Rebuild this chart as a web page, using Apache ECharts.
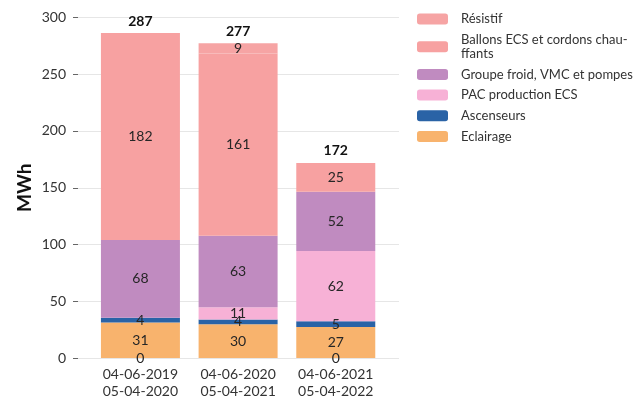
<!DOCTYPE html>
<html>
<head>
<meta charset="utf-8">
<script src="https://cdn.jsdelivr.net/npm/echarts@6/dist/echarts.min.js"></script>
<style>
  html, body { margin: 0; padding: 0; background: #fff; }
  #chart { width: 644px; height: 400px; }
</style>
</head>
<body>
<div id="chart"></div>
<script>
// periodes
const categories = ['04-06-2019\n05-04-2020', '04-06-2020\n05-04-2021', '04-06-2021\n05-04-2022'];

// consommations par poste (MWh), du bas vers le haut de la pile
const eclairage = [31.2, 29.8, 27.2];
const ascenseurs = [4.2, 4.0, 5.2];
const pacEcs = [0, 10.8, 61.8];
const groupeFroid = [68.4, 63.0, 52.2];
const ballonsEcs = [182.3, 160.6, 25.4];
const resistif = [0, 9.0, 0];

// totaux affiches au-dessus des barres
const totals = [287, 277, 172];

const yMin = 0, yMax = 300, yStep = 50;

const FONT = 'Lato';
const postes = [
  { name: 'Eclairage', data: eclairage, color: '#F8B36D' },
  { name: 'Ascenseurs', data: ascenseurs, color: '#2A63A6' },
  { name: 'PAC production ECS', data: pacEcs, color: '#F7B1D6' },
  { name: 'Groupe froid, VMC et pompes', data: groupeFroid, color: '#C08BC0' },
  { name: 'Ballons ECS et cordons chauffants', data: ballonsEcs, color: '#F7A1A1' },
  { name: 'Résistif', data: resistif, color: '#F6A4A4' }
];

// "0" ecrit au pied des barres qui ont un poste nul
const zeroRow = categories.map((c, i) => postes.some(p => p.data[i] === 0) ? 0 : '-');

let chart = echarts.init(document.getElementById('chart'));

let series = [];
series.push({
  name: '_zero',
  type: 'bar',
  stack: 'tot',
  xAxisIndex: 1,
  yAxisIndex: 1,
  barWidth: 79,
  data: zeroRow,
  itemStyle: { color: 'transparent' },
  label: {
    show: true,
    position: 'inside',
    color: '#262626',
    fontFamily: FONT,
    fontSize: 14,
    formatter: '0'
  },
  silent: true
});
postes.forEach(p => {
  series.push({
    name: p.name,
    type: 'bar',
    stack: 'tot',
    xAxisIndex: 1,
    yAxisIndex: 1,
    barWidth: 79,
    data: p.data,
    itemStyle: { color: p.color },
    label: {
      show: true,
      position: 'inside',
      color: '#262626',
      fontFamily: FONT,
      fontSize: 14,
      formatter: function (v) {
        return v.value ? String(Math.round(v.value)) : '';
      }
    }
  });
});
series.push({
  name: '_total',
  type: 'bar',
  stack: 'tot',
  xAxisIndex: 1,
  yAxisIndex: 1,
  barWidth: 79,
  data: totals.map(() => 0),
  itemStyle: { color: 'transparent' },
  label: {
    show: true,
    position: 'top',
    distance: 5,
    color: '#111',
    fontFamily: FONT,
    fontWeight: 'bold',
    fontSize: 14,
    formatter: function (v) {
      return String(totals[v.dataIndex]);
    }
  },
  silent: true
});

let option = {
  animation: false,
  backgroundColor: '#fff',
  legend: {
    orient: 'vertical',
    left: 412,
    top: 7,
    itemWidth: 31,
    itemHeight: 11,
    itemGap: 6.7,
    data: ['Résistif', 'Ballons ECS et cordons chauffants', 'Groupe froid, VMC et pompes',
      'PAC production ECS', 'Ascenseurs', 'Eclairage'],
    formatter: function (name) {
      return name === 'Ballons ECS et cordons chauffants' ? 'Ballons ECS et cordons chau-\nffants' : name;
    },
    textStyle: {
      fontFamily: FONT,
      fontSize: 13,
      lineHeight: 14,
      color: '#333',
      padding: [0, 0, 0, 8]
    }
  },
  grid: [
    { left: 78, right: 245, top: 17.3, bottom: 41.7 },
    { left: 91.6, right: 259.4, top: 17.3, bottom: 41.7 }
  ],
  xAxis: [
    { type: 'category', gridIndex: 0, data: categories, show: false },
    {
      type: 'category',
      gridIndex: 1,
      data: categories,
      axisLine: { show: false },
      axisTick: { show: false },
      axisLabel: {
        interval: 0,
        margin: 8,
        fontFamily: FONT,
        fontSize: 14,
        lineHeight: 17,
        color: '#333'
      }
    }
  ],
  yAxis: [
    {
      type: 'value',
      gridIndex: 0,
      min: yMin,
      max: yMax,
      interval: yStep,
      name: 'MWh',
      nameLocation: 'middle',
      nameGap: 44,
      nameTextStyle: {
        fontFamily: FONT,
        fontSize: 19,
        fontWeight: 'bold',
        color: '#111'
      },
      axisLine: { show: false },
      axisTick: { show: true, length: 5, lineStyle: { color: '#666' } },
      axisLabel: {
        margin: 12,
        fontFamily: FONT,
        fontSize: 14,
        color: '#333'
      },
      splitLine: { lineStyle: { color: '#e6e6e6', width: 1 } }
    },
    {
      type: 'value',
      gridIndex: 1,
      min: yMin,
      max: yMax,
      interval: yStep,
      show: false,
      splitLine: { show: false }
    }
  ],
  series: series
};

chart.setOption(option);
window.addEventListener('resize', function () {
  chart.resize();
});
</script>
</body>
</html>
